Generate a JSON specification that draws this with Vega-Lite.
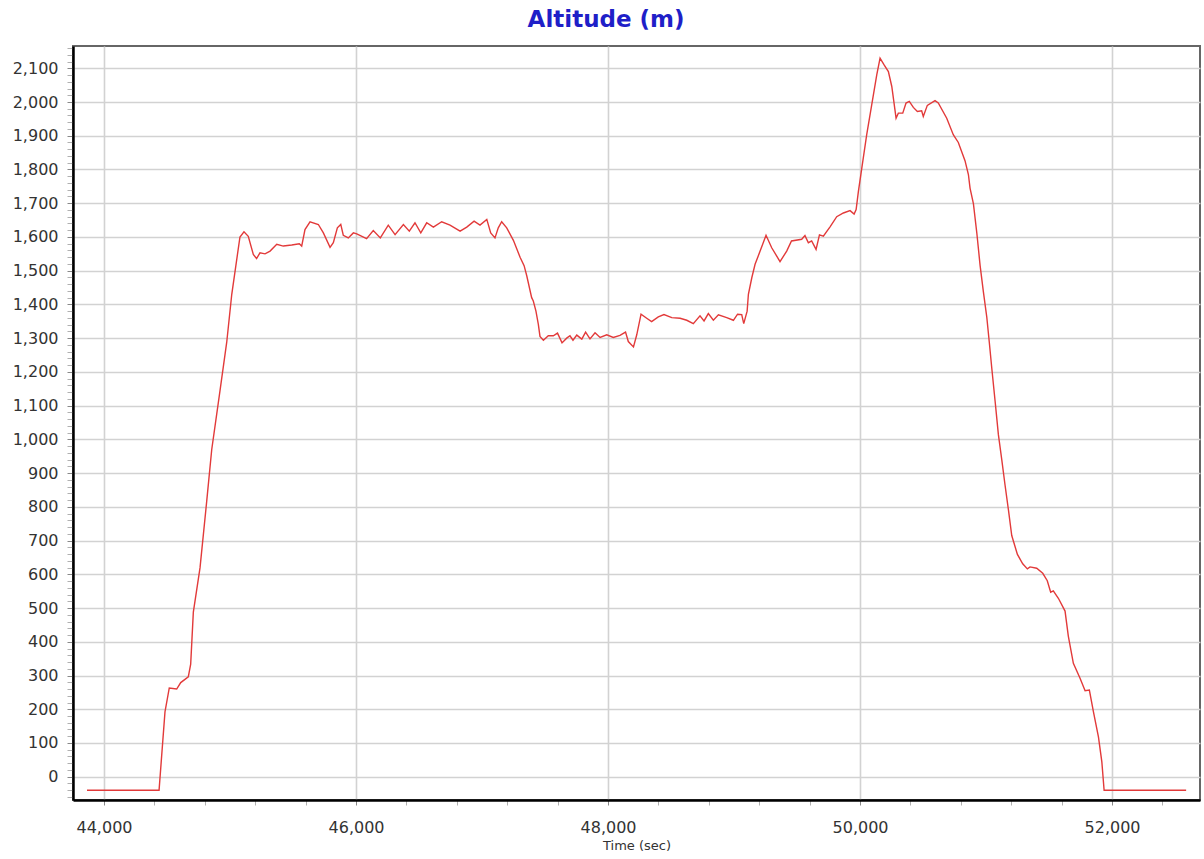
{
  "$schema": "https://vega.github.io/schema/vega-lite/v6.json",
  "autosize": "none",
  "padding": {"left": 73, "top": 46, "right": 4, "bottom": 59},
  "width": 1127,
  "height": 754,
  "background": "white",
  "title": {
    "text": "Altitude (m)",
    "color": "#1f1fc8",
    "font": "DejaVu Sans",
    "fontSize": 23,
    "fontWeight": "bold",
    "offset": 8,
    "anchor": "middle",
    "frame": "bounds"
  },
  "config": {
    "view": {"stroke": "#666666", "strokeWidth": 2},
    "axis": {
      "labelFont": "DejaVu Sans",
      "labelFontSize": 16,
      "labelColor": "#333333",
      "titleFont": "DejaVu Sans",
      "titleFontSize": 13,
      "titleFontWeight": "normal",
      "titleColor": "#333333",
      "domainColor": "#000000",
      "domainWidth": 2.5,
      "gridColor": "#d2d2d2",
      "gridWidth": 1.6,
      "tickColor": "#999999",
      "tickSize": 5,
      "tickWidth": 1
    }
  },
  "data": {
    "values": [
      {"t": 43865, "alt": -40}, {"t": 44437, "alt": -40}, {"t": 44484, "alt": 192}, {"t": 44518, "alt": 263},
      {"t": 44577, "alt": 260}, {"t": 44609, "alt": 279}, {"t": 44669, "alt": 296}, {"t": 44688, "alt": 334},
      {"t": 44709, "alt": 488}, {"t": 44762, "alt": 619}, {"t": 44815, "alt": 816}, {"t": 44855, "alt": 970},
      {"t": 44921, "alt": 1145}, {"t": 44974, "alt": 1288}, {"t": 45014, "alt": 1430}, {"t": 45079, "alt": 1600},
      {"t": 45111, "alt": 1615}, {"t": 45145, "alt": 1602}, {"t": 45185, "alt": 1548}, {"t": 45211, "alt": 1536},
      {"t": 45238, "alt": 1553}, {"t": 45278, "alt": 1550}, {"t": 45318, "alt": 1558}, {"t": 45371, "alt": 1578},
      {"t": 45423, "alt": 1573}, {"t": 45490, "alt": 1576}, {"t": 45550, "alt": 1580}, {"t": 45569, "alt": 1573},
      {"t": 45595, "alt": 1622}, {"t": 45635, "alt": 1645}, {"t": 45701, "alt": 1637}, {"t": 45741, "alt": 1612},
      {"t": 45794, "alt": 1569}, {"t": 45820, "alt": 1583}, {"t": 45852, "alt": 1627}, {"t": 45879, "alt": 1637},
      {"t": 45899, "alt": 1605}, {"t": 45939, "alt": 1597}, {"t": 45979, "alt": 1612}, {"t": 46006, "alt": 1609},
      {"t": 46084, "alt": 1595}, {"t": 46137, "alt": 1619}, {"t": 46193, "alt": 1597}, {"t": 46256, "alt": 1635},
      {"t": 46310, "alt": 1607}, {"t": 46376, "alt": 1637}, {"t": 46423, "alt": 1617}, {"t": 46468, "alt": 1642},
      {"t": 46514, "alt": 1612}, {"t": 46561, "alt": 1642}, {"t": 46614, "alt": 1629}, {"t": 46680, "alt": 1645},
      {"t": 46746, "alt": 1635}, {"t": 46826, "alt": 1617}, {"t": 46879, "alt": 1629}, {"t": 46937, "alt": 1647},
      {"t": 46984, "alt": 1635}, {"t": 47038, "alt": 1652}, {"t": 47069, "alt": 1612}, {"t": 47103, "alt": 1597},
      {"t": 47129, "alt": 1627}, {"t": 47156, "alt": 1645}, {"t": 47196, "alt": 1627}, {"t": 47249, "alt": 1590},
      {"t": 47302, "alt": 1540}, {"t": 47334, "alt": 1515}, {"t": 47355, "alt": 1485}, {"t": 47394, "alt": 1420},
      {"t": 47407, "alt": 1410}, {"t": 47428, "alt": 1380}, {"t": 47447, "alt": 1341}, {"t": 47460, "alt": 1305},
      {"t": 47487, "alt": 1294}, {"t": 47526, "alt": 1307}, {"t": 47566, "alt": 1307}, {"t": 47599, "alt": 1315},
      {"t": 47635, "alt": 1286}, {"t": 47672, "alt": 1300}, {"t": 47698, "alt": 1307}, {"t": 47722, "alt": 1294},
      {"t": 47752, "alt": 1309}, {"t": 47792, "alt": 1297}, {"t": 47822, "alt": 1318}, {"t": 47857, "alt": 1298},
      {"t": 47897, "alt": 1316}, {"t": 47937, "alt": 1302}, {"t": 47990, "alt": 1310}, {"t": 48042, "alt": 1302},
      {"t": 48095, "alt": 1308}, {"t": 48139, "alt": 1318}, {"t": 48161, "alt": 1290}, {"t": 48202, "alt": 1274},
      {"t": 48228, "alt": 1310}, {"t": 48262, "alt": 1371}, {"t": 48307, "alt": 1359}, {"t": 48346, "alt": 1349},
      {"t": 48399, "alt": 1363}, {"t": 48444, "alt": 1370}, {"t": 48506, "alt": 1361}, {"t": 48572, "alt": 1359},
      {"t": 48625, "alt": 1353}, {"t": 48677, "alt": 1343}, {"t": 48730, "alt": 1366}, {"t": 48762, "alt": 1351},
      {"t": 48796, "alt": 1373}, {"t": 48836, "alt": 1353}, {"t": 48876, "alt": 1369}, {"t": 48942, "alt": 1361},
      {"t": 48995, "alt": 1353}, {"t": 49028, "alt": 1371}, {"t": 49061, "alt": 1370}, {"t": 49077, "alt": 1343},
      {"t": 49104, "alt": 1380}, {"t": 49114, "alt": 1430}, {"t": 49141, "alt": 1479}, {"t": 49167, "alt": 1519},
      {"t": 49207, "alt": 1558}, {"t": 49254, "alt": 1605}, {"t": 49299, "alt": 1568}, {"t": 49365, "alt": 1527},
      {"t": 49418, "alt": 1558}, {"t": 49456, "alt": 1588}, {"t": 49537, "alt": 1593}, {"t": 49563, "alt": 1604},
      {"t": 49590, "alt": 1583}, {"t": 49616, "alt": 1588}, {"t": 49651, "alt": 1563}, {"t": 49678, "alt": 1606},
      {"t": 49709, "alt": 1602}, {"t": 49762, "alt": 1630}, {"t": 49815, "alt": 1660}, {"t": 49868, "alt": 1671},
      {"t": 49921, "alt": 1678}, {"t": 49953, "alt": 1668}, {"t": 49969, "alt": 1681}, {"t": 49987, "alt": 1735},
      {"t": 50014, "alt": 1804}, {"t": 50053, "alt": 1903}, {"t": 50093, "alt": 1992}, {"t": 50133, "alt": 2081},
      {"t": 50159, "alt": 2130}, {"t": 50191, "alt": 2110}, {"t": 50225, "alt": 2090}, {"t": 50252, "alt": 2046},
      {"t": 50286, "alt": 1952}, {"t": 50304, "alt": 1967}, {"t": 50339, "alt": 1967}, {"t": 50365, "alt": 1997},
      {"t": 50391, "alt": 2002}, {"t": 50423, "alt": 1984}, {"t": 50455, "alt": 1972}, {"t": 50489, "alt": 1974},
      {"t": 50502, "alt": 1957}, {"t": 50534, "alt": 1990}, {"t": 50595, "alt": 2004}, {"t": 50621, "alt": 1997},
      {"t": 50688, "alt": 1952}, {"t": 50740, "alt": 1903}, {"t": 50780, "alt": 1880}, {"t": 50833, "alt": 1826},
      {"t": 50860, "alt": 1785}, {"t": 50873, "alt": 1745}, {"t": 50900, "alt": 1698}, {"t": 50927, "alt": 1611},
      {"t": 50953, "alt": 1515}, {"t": 50979, "alt": 1437}, {"t": 51006, "alt": 1362}, {"t": 51026, "alt": 1287},
      {"t": 51045, "alt": 1213}, {"t": 51072, "alt": 1113}, {"t": 51098, "alt": 1014}, {"t": 51125, "alt": 939},
      {"t": 51151, "alt": 864}, {"t": 51178, "alt": 790}, {"t": 51204, "alt": 715}, {"t": 51249, "alt": 659},
      {"t": 51291, "alt": 631}, {"t": 51328, "alt": 616}, {"t": 51349, "alt": 622}, {"t": 51402, "alt": 618},
      {"t": 51450, "alt": 603}, {"t": 51486, "alt": 581}, {"t": 51513, "alt": 547}, {"t": 51534, "alt": 551},
      {"t": 51574, "alt": 529}, {"t": 51627, "alt": 491}, {"t": 51653, "alt": 417}, {"t": 51693, "alt": 336},
      {"t": 51746, "alt": 292}, {"t": 51786, "alt": 255}, {"t": 51820, "alt": 257}, {"t": 51852, "alt": 193},
      {"t": 51892, "alt": 118}, {"t": 51919, "alt": 44}, {"t": 51937, "alt": -40}, {"t": 52588, "alt": -40}
    ]
  },
  "mark": {"type": "line", "color": "#e23a3a", "strokeWidth": 1.4, "clip": true},
  "encoding": {
    "x": {
      "field": "t",
      "type": "quantitative",
      "title": "Time (sec)",
      "scale": {"domain": [43754, 52698], "nice": false, "zero": false},
      "axis": {
        "values": [44000, 44400, 44800, 45200, 45600, 46000, 46400, 46800, 47200, 47600, 48000, 48400, 48800, 49200, 49600, 50000, 50400, 50800, 51200, 51600, 52000, 52400],
        "labelExpr": "datum.value % 2000 === 0 ? format(datum.value, ',') : ''",
        "gridOpacity": {"condition": {"test": "datum.value % 2000 === 0", "value": 1}, "value": 0},
        "tickColor": {"condition": {"test": "datum.value % 2000 === 0", "value": "#888888"}, "value": "#b0b0b0"},
        "labelPadding": 14,
        "titlePadding": 4,
        "labelFlush": false,
        "labelOverlap": false
      }
    },
    "y": {
      "field": "alt",
      "type": "quantitative",
      "title": null,
      "scale": {"domain": [-69, 2166], "nice": false, "zero": false},
      "axis": {
        "values": [-60, -40, -20, 0, 20, 40, 60, 80, 100, 120, 140, 160, 180, 200, 220, 240, 260, 280, 300, 320, 340, 360, 380, 400, 420, 440, 460, 480, 500, 520, 540, 560, 580, 600, 620, 640, 660, 680, 700, 720, 740, 760, 780, 800, 820, 840, 860, 880, 900, 920, 940, 960, 980, 1000, 1020, 1040, 1060, 1080, 1100, 1120, 1140, 1160, 1180, 1200, 1220, 1240, 1260, 1280, 1300, 1320, 1340, 1360, 1380, 1400, 1420, 1440, 1460, 1480, 1500, 1520, 1540, 1560, 1580, 1600, 1620, 1640, 1660, 1680, 1700, 1720, 1740, 1760, 1780, 1800, 1820, 1840, 1860, 1880, 1900, 1920, 1940, 1960, 1980, 2000, 2020, 2040, 2060, 2080, 2100, 2120, 2140, 2160],
        "labelExpr": "datum.value % 100 === 0 && datum.value >= 0 ? format(datum.value, ',') : ''",
        "gridOpacity": {"condition": {"test": "datum.value % 100 === 0 && datum.value >= 0", "value": 1}, "value": 0},
        "tickColor": {"condition": {"test": "datum.value % 100 === 0", "value": "#888888"}, "value": "#b0b0b0"},
        "tickSize": 6,
        "labelPadding": 9,
        "labelOverlap": false,
        "labelFlush": false
      }
    }
  }
}
